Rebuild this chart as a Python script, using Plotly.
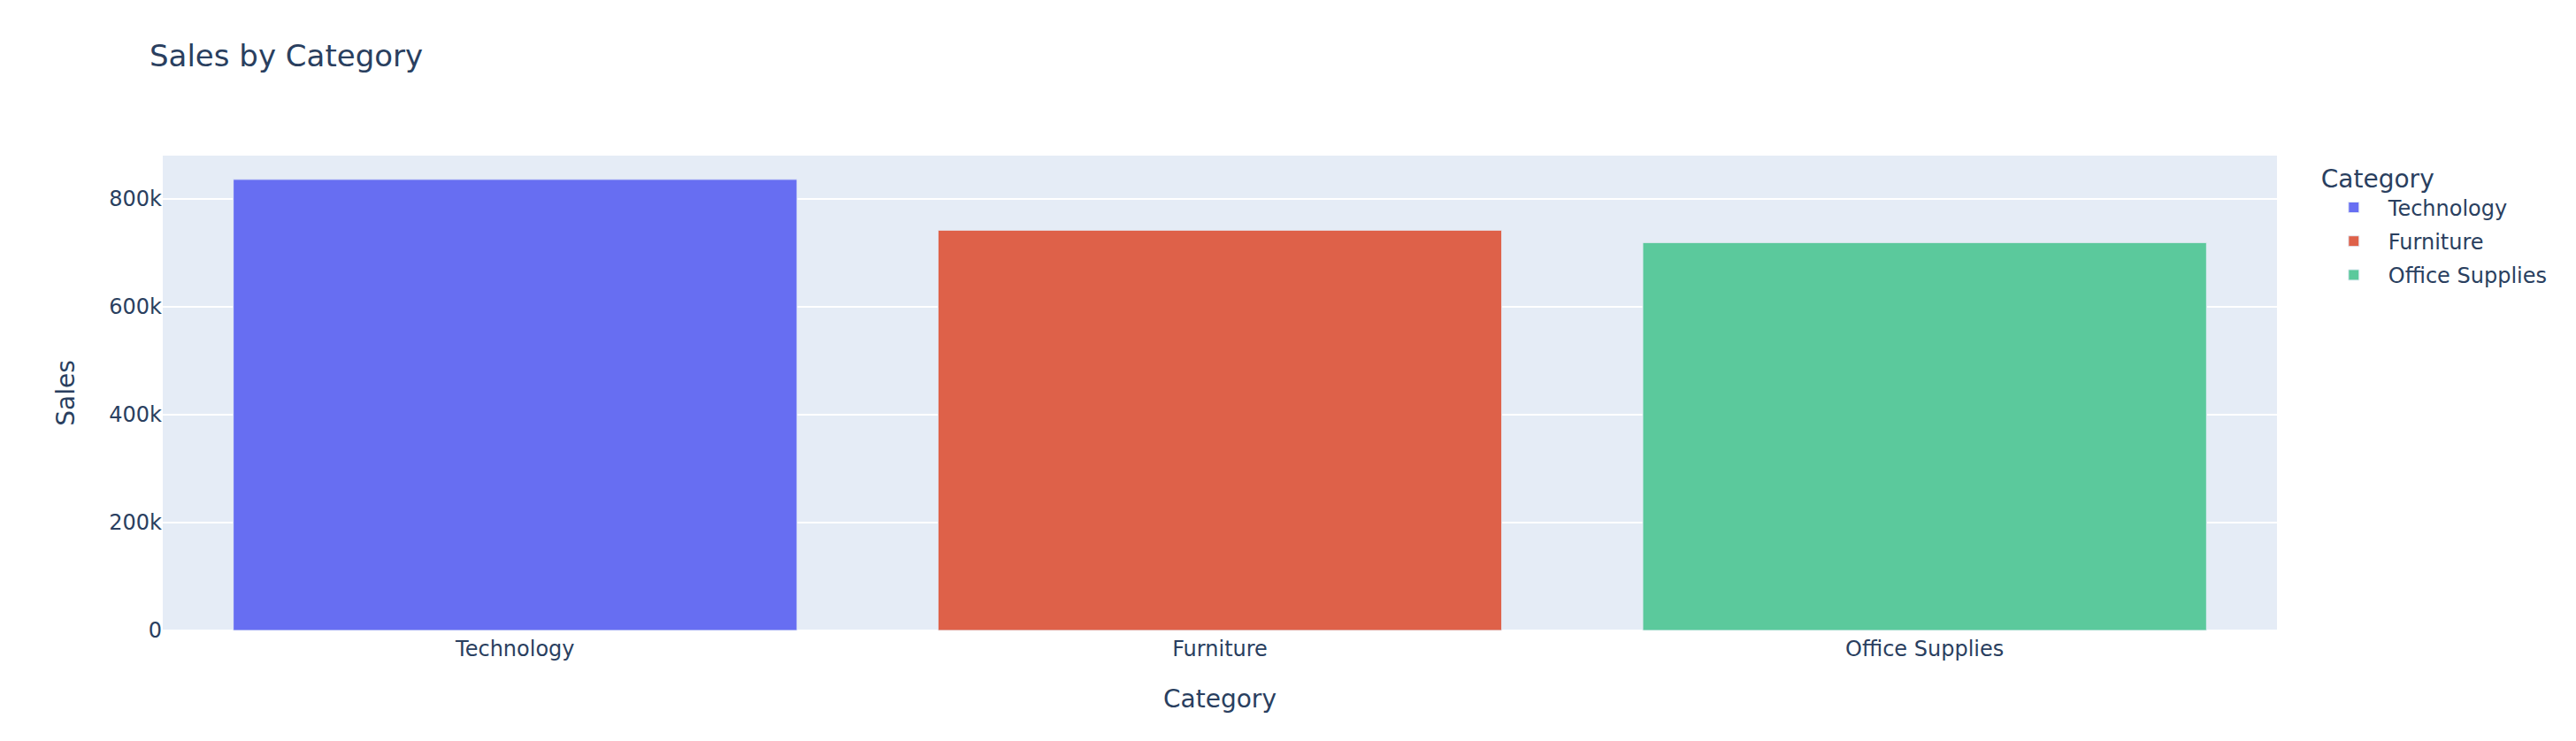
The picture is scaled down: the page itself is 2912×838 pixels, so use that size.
import plotly.graph_objects as go

categories = ["Technology", "Furniture", "Office Supplies"]
sales = [836154.03, 741999.80, 719047.03]
colors = ["#676EF2", "#DE6149", "#5BC99C"]

FONT = "Verdana, DejaVu Sans, sans-serif"
W, H, OFF = 2896, 822, 8  # page body margin offset

fig = go.Figure()
for cat, val, col in zip(categories, sales, colors):
    fig.add_trace(go.Bar(
        x=[cat], y=[val], name=cat, legendgroup=cat,
        marker=dict(color=col, line=dict(color="#E5ECF6", width=1)),
    ))

plot_l, plot_r, plot_t, plot_b = 184 - OFF, 2574 - OFF, 176 - OFF, 713 - OFF

fig.update_layout(
    width=W, height=H,
    barmode="relative",
    template="plotly",
    font=dict(family=FONT, size=24, color="#2a3f5f"),
    title=dict(text="Sales by Category", x=(169 - OFF) / W, xanchor="left",
               y=1 - (63 - OFF) / H, yanchor="middle", yref="container",
               font=dict(size=34)),
    margin=dict(l=plot_l, r=W - plot_r, t=plot_t, b=H - plot_b, pad=0),
    legend=dict(title=dict(text="Category", font=dict(size=28)),
                font=dict(size=24), tracegroupgap=4, itemwidth=68),
    xaxis=dict(title=dict(text="Category", font=dict(size=28), standoff=33),
               categoryorder="array", categoryarray=categories,
               ticklabelstandoff=4, automargin=False),
    yaxis=dict(title=dict(text="Sales", font=dict(size=28), standoff=30),
               dtick=200000, gridwidth=2, automargin=False),
)

fig.write_html("out.html")
